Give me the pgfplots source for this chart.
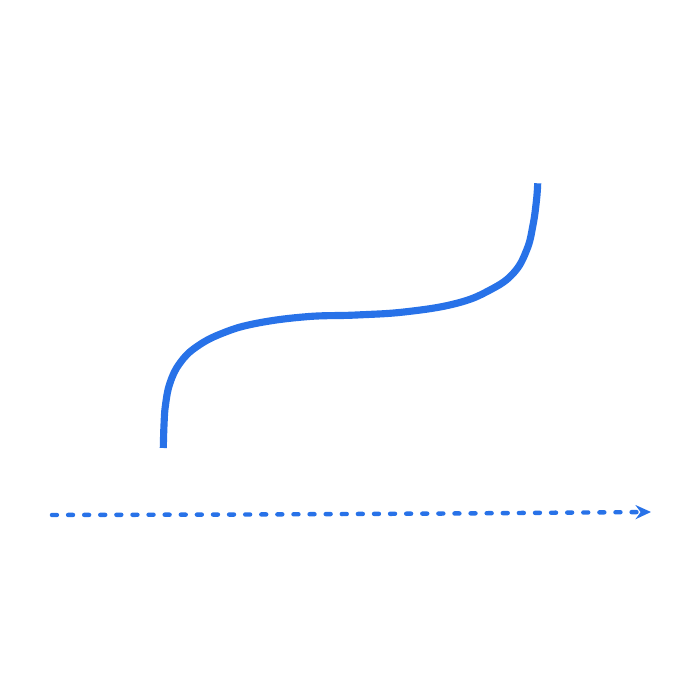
\documentclass[border=0pt]{standalone}
\usepackage{pgfplots}
\pgfplotsset{compat=1.18}
\usetikzlibrary{arrows.meta}
\definecolor{cblue}{RGB}{40,114,232}
\begin{document}
\begin{tikzpicture}
\begin{axis}[
  width=10cm, height=10cm, scale only axis,
  xmin=0, xmax=700, ymin=0, ymax=700,
  hide axis, clip=false
]
\addplot[draw=none, forget plot] coordinates {(0,0) (700,700)};
\addplot[cblue, line width=2.9pt, smooth, tension=0.7] coordinates {
(163.3,252) (164,275) (165.5,295) (170,317) (180,337) (196.7,353.3) (223,367) (256.7,376.7)
(306.7,383.3) (356.7,385) (406.7,388.3) (456.7,396.7) (490,410) (513.3,426.7)
(526.7,450) (533,475) (536.5,500) (537.7,516.7)
};
\addplot[cblue, line width=1.8pt, line cap=round, dash pattern=on 0.7mm off 1.6mm, -{Stealth[length=2.2mm,width=2mm]}] coordinates {
(52,185) (250,185.5) (450,186.5) (651,188)
};
\end{axis}
\end{tikzpicture}
\end{document}
